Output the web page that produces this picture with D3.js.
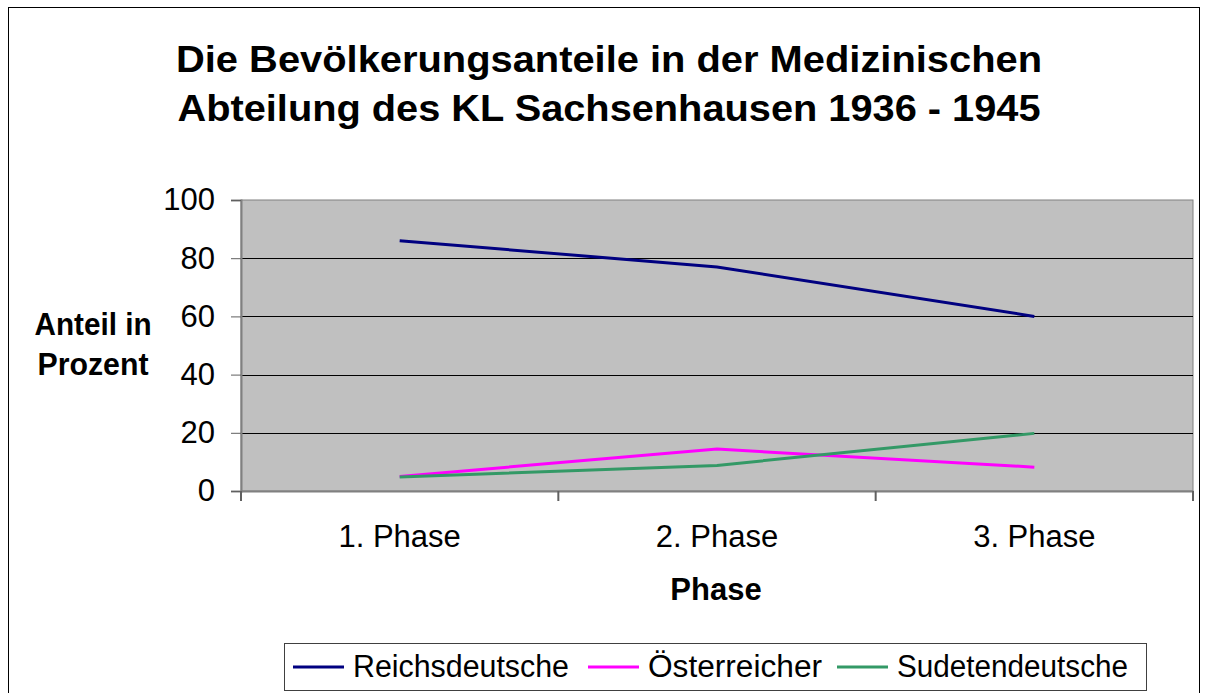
<!DOCTYPE html>
<html>
<head>
<meta charset="utf-8">
<script src="https://cdn.jsdelivr.net/npm/d3@7"></script>
<style>
  body { margin: 0; background: #fff; }
  svg { display: block; font-family: "Liberation Sans", Arial, sans-serif; }
</style>
</head>
<body>
<svg width="1208" height="693"></svg>
<script>
const phases = ["1. Phase", "2. Phase", "3. Phase"];
const seriesNames = ["Reichsdeutsche", "Österreicher", "Sudetendeutsche"];
const reichsdeutsche = [86, 77, 60];
const oesterreicher = [5, 14.4, 8.2];
const sudetendeutsche = [4.8, 8.8, 19.8];
const yTicks = [0, 20, 40, 60, 80, 100];
const colors = ["#000080", "#ff00ff", "#339966"];

const series = [reichsdeutsche, oesterreicher, sudetendeutsche].map((vals, i) => ({
  name: seriesNames[i],
  color: colors[i],
  values: vals.map((v, j) => ({ phase: phases[j], value: v }))
}));

const svg = d3.select("svg");
const font = "Liberation Sans, Arial, sans-serif";

// outer chart frame
svg.append("rect")
  .attr("x", 8.5).attr("y", 7.5)
  .attr("width", 1191).attr("height", 700)
  .attr("fill", "#fff").attr("stroke", "#000").attr("stroke-width", 1);

// title
const title = svg.append("text")
  .attr("text-anchor", "middle")
  .attr("font-weight", "bold")
  .attr("font-size", 36);
title.append("tspan").attr("x", 609).attr("y", 72)
  .attr("textLength", 866).attr("lengthAdjust", "spacingAndGlyphs")
  .text("Die Bevölkerungsanteile in der Medizinischen");
title.append("tspan").attr("x", 609).attr("y", 121)
  .attr("textLength", 863).attr("lengthAdjust", "spacingAndGlyphs")
  .text("Abteilung des KL Sachsenhausen 1936 - 1945");

const plot = { left: 241, top: 200, right: 1193, bottom: 491 };

const x = d3.scaleBand().domain(phases).range([plot.left, plot.right]);
const y = d3.scaleLinear().domain([0, 100]).range([plot.bottom, plot.top]);

// plot background
svg.append("rect")
  .attr("x", plot.left).attr("y", plot.top)
  .attr("width", plot.right - plot.left).attr("height", plot.bottom - plot.top)
  .attr("fill", "#c0c0c0")
  .attr("stroke", "#808080");

// gridlines
svg.append("g")
  .selectAll("line")
  .data(yTicks.filter(d => d > 0 && d < 100))
  .join("line")
  .attr("x1", plot.left).attr("x2", plot.right)
  .attr("y1", d => Math.round(y(d)) + 0.5).attr("y2", d => Math.round(y(d)) + 0.5)
  .attr("stroke", "#000");

// y axis
const yAxis = svg.append("g")
  .attr("transform", `translate(${plot.left},0)`)
  .call(d3.axisLeft(y).tickValues(yTicks).tickSize(10).tickPadding(16));
yAxis.select(".domain").attr("stroke", "#808080").attr("stroke-width", 2);
yAxis.selectAll(".tick line").attr("stroke", "#606060");
yAxis.selectAll("text").attr("font-size", 31).attr("fill", "#000")
  .attr("font-family", font);

// x axis
const xAxis = svg.append("g")
  .attr("transform", `translate(0,${plot.bottom})`)
  .call(d3.axisBottom(x).tickSize(0).tickPadding(34));
xAxis.select(".domain").attr("stroke", "#808080").attr("stroke-width", 2);
xAxis.selectAll("text").attr("font-size", 31).attr("fill", "#000")
  .attr("font-family", font);
// ticks at category boundaries
svg.append("g")
  .selectAll("line")
  .data(phases.map(p => x(p)).concat([plot.right]))
  .join("line")
  .attr("x1", d => d).attr("x2", d => d)
  .attr("y1", plot.bottom).attr("y2", plot.bottom + 10)
  .attr("stroke", "#606060").attr("stroke-width", 2);

// axis titles
const yTitle = svg.append("text")
  .attr("text-anchor", "middle")
  .attr("font-weight", "bold")
  .attr("font-size", 31);
yTitle.append("tspan").attr("x", 93).attr("y", 335)
  .attr("textLength", 117).attr("lengthAdjust", "spacingAndGlyphs").text("Anteil in");
yTitle.append("tspan").attr("x", 93).attr("y", 375)
  .attr("textLength", 111).attr("lengthAdjust", "spacingAndGlyphs").text("Prozent");

svg.append("text")
  .attr("x", 716).attr("y", 600)
  .attr("text-anchor", "middle")
  .attr("font-weight", "bold")
  .attr("font-size", 31)
  .text("Phase");

// lines
const line = d3.line()
  .x(d => x(d.phase) + x.bandwidth() / 2)
  .y(d => y(d.value));

svg.append("g")
  .selectAll("path")
  .data(series)
  .join("path")
  .attr("d", d => line(d.values))
  .attr("fill", "none")
  .attr("stroke", d => d.color)
  .attr("stroke-width", 3);

// legend
const legend = svg.append("g");
legend.append("rect")
  .attr("x", 284.5).attr("y", 643.5)
  .attr("width", 862).attr("height", 47)
  .attr("fill", "#fff").attr("stroke", "#404040");

const legendX = [293, 588, 837];
const legendW = [216, 174, 231];
const items = legend.selectAll("g.item")
  .data(series)
  .join("g")
  .attr("class", "item")
  .attr("transform", (d, i) => `translate(${legendX[i]},667)`);
items.append("line")
  .attr("x1", 0).attr("x2", 51)
  .attr("stroke", d => d.color).attr("stroke-width", 3);
items.append("text")
  .attr("x", 60).attr("y", 10)
  .attr("font-size", 31)
  .attr("textLength", (d, i) => legendW[i])
  .attr("lengthAdjust", "spacingAndGlyphs")
  .text(d => d.name);
</script>
</body>
</html>
